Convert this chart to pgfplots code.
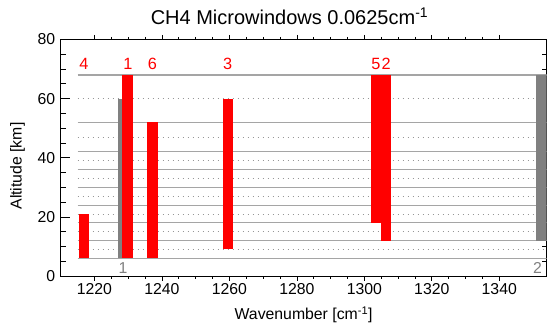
\documentclass[border=0pt]{standalone}
\usepackage{pgfplots}
\pgfplotsset{compat=1.18}
\usepackage{fontspec}
\setmainfont{Liberation Sans}
\definecolor{gridsolid}{RGB}{165,165,165}
\definecolor{griddot}{RGB}{150,150,150}
\definecolor{barred}{RGB}{255,0,0}
\definecolor{bargray}{RGB}{128,128,128}
\newcommand{\mwbar}[5]{\addplot[fill=#5, draw=none] coordinates {(#1,#3) (#2,#3) (#2,#4) (#1,#4)} -- cycle;}
\newcommand{\hsolid}[1]{\addplot[gridsolid, line width=1.1pt] coordinates {(1215,#1) (1356,#1)};}
\newcommand{\hdot}[1]{\addplot[griddot, line width=0.8pt, dash pattern=on 0.9pt off 4.1pt] coordinates {(1215,#1) (1356,#1)};}
\begin{document}
\begin{tikzpicture}
\useasboundingbox (-60.7pt,-48pt) rectangle (487.3pt,276pt);
\begin{axis}[
  scale only axis,
  width=485.8pt, height=236.5pt,
  xmin=1210, xmax=1354, ymin=0, ymax=80,
  xtick={1220,1240,...,1340},
  ytick={0,20,...,80},
  minor x tick num=3, minor y tick num=3,
  xtick align=outside, ytick align=inside,
  xtick pos=both, ytick pos=both,
  xtick style={black, line width=0.7pt, /pgfplots/major tick length=4.5pt, /pgfplots/minor tick length=2.5pt},
  ytick style={black, line width=0.7pt, /pgfplots/major tick length=9pt, /pgfplots/minor tick length=5pt},
  axis line style={black, line width=0.9pt},
  clip mode=individual,
  /pgf/number format/assume math mode=true,
  /pgf/number format/1000 sep={},
  tick label style={font=\fontsize{15.8}{18}\selectfont},
  yticklabel style={xshift=-2pt},
  title={CH4 Microwindows 0.0625cm\textsuperscript{-1}},
  title style={font=\fontsize{20}{24}\selectfont, at={(0.471,1.072)}, anchor=center},
  xlabel={Wavenumber [cm\textsuperscript{-1}]},
  xlabel style={font=\fontsize{15.8}{18}\selectfont, at={(0.5,-0.165)}, anchor=center},
  ylabel={Altitude [km]},
  ylabel style={font=\fontsize{15.8}{18}\selectfont, at={(-0.089,0.465)}, anchor=center},
]
% level lines
\hsolid{68}\hsolid{52}\hsolid{42}\hsolid{36}\hsolid{30}\hsolid{24}\hsolid{18}\hsolid{12}\hsolid{6}
\hdot{60}\hdot{47}\hdot{39}\hdot{33}\hdot{27}\hdot{21}\hdot{15}\hdot{9}
% microwindows
\mwbar{1227.1}{1228.3}{6}{60}{bargray}
\mwbar{1350.9}{1354.4}{12}{68}{bargray}
\mwbar{1215.4}{1218.4}{6}{21}{barred}
\mwbar{1228.3}{1231.4}{6}{68}{barred}
\mwbar{1235.7}{1238.8}{6}{52}{barred}
\mwbar{1258.0}{1261.1}{9}{60}{barred}
\mwbar{1301.9}{1304.9}{18}{68}{barred}
\mwbar{1304.9}{1308.0}{12}{68}{barred}
% labels
\begin{scope}[every node/.style={text=barred, font=\fontsize{16.3}{18}\selectfont, anchor=center, inner sep=0pt}]
\node at (axis cs:1216.9,71.7) {4};
\node at (axis cs:1229.9,71.7) {1};
\node at (axis cs:1237.2,71.7) {6};
\node at (axis cs:1259.5,71.7) {3};
\node at (axis cs:1303.4,71.7) {5};
\node at (axis cs:1306.5,71.7) {2};
\end{scope}
\begin{scope}[every node/.style={text=bargray, font=\fontsize{15.8}{18}\selectfont, anchor=center, inner sep=0pt}]
\node at (axis cs:1228.5,2.6) {1};
\node at (axis cs:1351.3,2.6) {2};
\end{scope}
\end{axis}
\end{tikzpicture}
\end{document}
